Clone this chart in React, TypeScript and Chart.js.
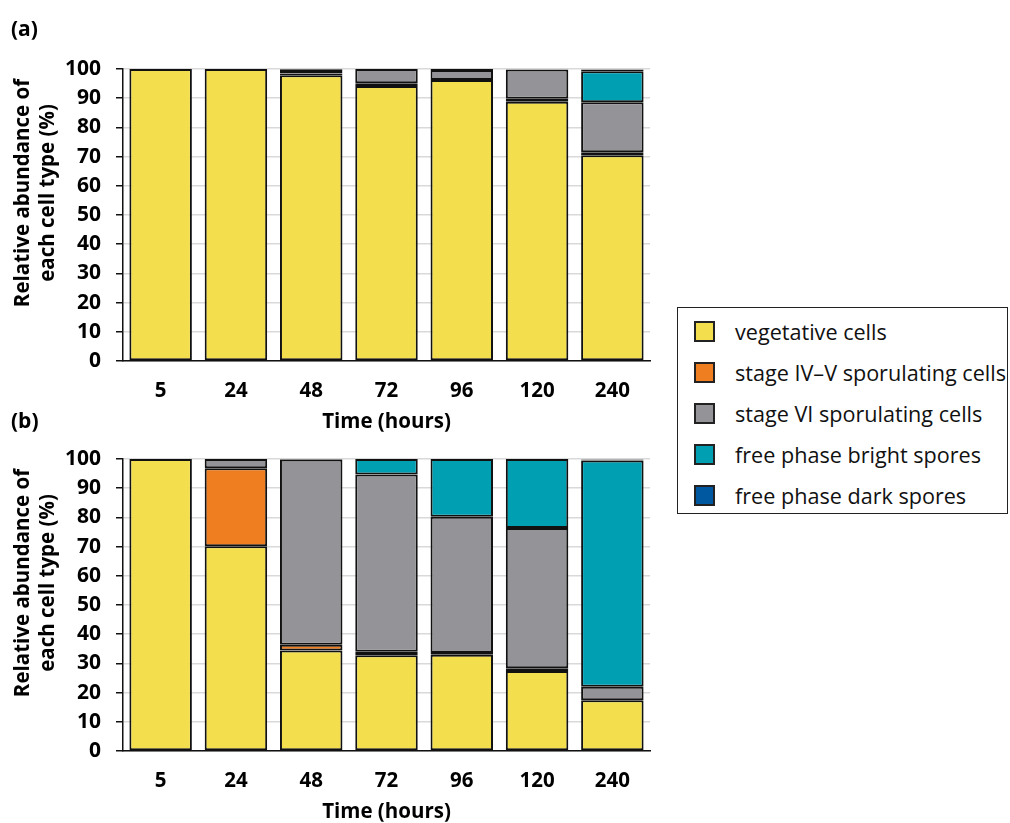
import React, { useEffect, useRef } from 'react';
import { Chart, registerables } from 'chart.js';

Chart.register(...registerables);

// Sampling times (hours) on the x axis
const hours = ['5', '24', '48', '72', '96', '120', '240'];

// Cell type series (stacked bottom to top)
const seriesNames = [
  'vegetative cells',
  'stage IV–V sporulating cells',
  'stage VI sporulating cells',
  'free phase bright spores',
  'free phase dark spores',
];
const seriesColors = ['#F3DF4D', '#EE7E1F', '#949397', '#00A0B2', '#0058A0'];

// Panel (a): relative abundance (%); null = cell type not observed
const vegetativeA = [100, 100, 97.9, 94.2, 96.2, 88.8, 70.5];
const stageIVVA = [null, null, 0.6, 0.9, null, 1.0, 1.0];
const stageVIA = [null, null, 0.8, 4.9, 3.5, 10.0, 17.1];
const brightA = [null, null, null, null, null, null, 10.6];
const darkA = [null, null, 0.6, null, 0.3, null, 0.6];

// Panel (b): relative abundance (%)
const vegetativeB = [100, 70.1, 34.4, 32.8, 33.0, 27.4, 17.4];
const stageIVVB = [null, 26.7, 2.0, 1.2, 0.6, 0.9, null];
const stageVIB = [null, 3.2, 63.4, 60.7, 46.6, 48.1, 4.6];
const brightB = [null, null, null, 5.3, 19.8, 23.6, 77.5];
const darkB = [null, null, 0.2, null, null, null, 0.3];

const yTitleLines = ['Relative abundance of', 'each cell type (%)'];
const xTitle = 'Time (hours)';

const FONT = "'Open Sans', 'DejaVu Sans', sans-serif";

const yTitlePlugin = {
  id: 'yTitleTwoLines',
  afterDraw(chart: any) {
    const { ctx, chartArea } = chart;
    ctx.save();
    ctx.font = `bold 20.5px ${FONT}`;
    ctx.fillStyle = '#000';
    ctx.textAlign = 'center';
    ctx.textBaseline = 'middle';
    const cy = (chartArea.top + chartArea.bottom) / 2 - 22;
    yTitleLines.forEach((line, i) => {
      ctx.save();
      ctx.translate(23 + i * 25, cy);
      ctx.rotate(-Math.PI / 2);
      ctx.fillText(line, 0, 0);
      ctx.restore();
    });
    ctx.restore();
  },
};

function StackedPanel({ series, top }: { series: (number | null)[][]; top: number }) {
  const ref = useRef<HTMLCanvasElement | null>(null);

  useEffect(() => {
    if (!ref.current) return;
    const chart = new Chart(ref.current, {
      type: 'bar',
      data: {
        labels: hours,
        datasets: series.map((values, i) => ({
          label: seriesNames[i],
          data: values,
          backgroundColor: seriesColors[i],
          borderColor: '#111',
          borderWidth: 2,
          borderSkipped: false,
          barPercentage: 0.83,
          categoryPercentage: 1,
        })),
      },
      options: {
        animation: false,
        responsive: false,
        maintainAspectRatio: false,
        layout: { padding: { top: 29, right: 5, left: 0, bottom: 0 } },
        plugins: {
          legend: { display: false },
          tooltip: { enabled: false },
        },
        scales: {
          x: {
            stacked: true,
            grid: { display: false, drawTicks: false },
            border: { display: true, color: '#111', width: 1.5 },
            ticks: {
              color: '#000',
              font: { family: FONT, size: 20.5, weight: 'bold' },
              padding: 18,
            },
            title: {
              display: true,
              text: xTitle,
              color: '#000',
              font: { family: FONT, size: 20.5, weight: 'bold' },
              padding: { top: 0, bottom: 6 },
            },
            afterFit(scale: any) {
              scale.height = 79;
            },
          },
          y: {
            stacked: true,
            min: 0,
            max: 100,
            ticks: {
              stepSize: 10,
              color: '#000',
              font: { family: FONT, size: 21, weight: 'bold' },
              padding: 15,
            },
            grid: {
              color: '#d9d9d9',
              lineWidth: 1.5,
              tickColor: '#111',
              tickLength: 7,
              drawTicks: true,
            },
            border: { display: true, color: '#111', width: 1.5 },
            afterFit(scale: any) {
              scale.width = 123;
            },
          },
        },
      },
      plugins: [yTitlePlugin],
    });
    return () => chart.destroy();
  }, [series]);

  return (
    <canvas
      ref={ref}
      width={655}
      height={400}
      style={{ position: 'absolute', left: 0, top, width: 655, height: 400 }}
    />
  );
}

const panelA = [vegetativeA, stageIVVA, stageVIA, brightA, darkA];
const panelB = [vegetativeB, stageIVVB, stageVIB, brightB, darkB];

function Legend() {
  return (
    <div
      style={{
        position: 'absolute',
        left: 677,
        top: 307,
        width: 329,
        height: 205,
        border: '1.5px solid #222',
        background: '#fff',
        fontFamily: FONT,
      }}
    >
      {seriesNames.map((name, i) => (
        <div
          key={name}
          style={{
            position: 'absolute',
            left: 16,
            top: 23 + i * 41 - 15,
            height: 30,
            display: 'flex',
            alignItems: 'center',
            whiteSpace: 'nowrap',
          }}
        >
          <div
            style={{
              width: 17,
              height: 17,
              background: seriesColors[i],
              border: '2px solid #222',
              marginRight: 20,
            }}
          />
          <span style={{ fontSize: 21.6, color: '#111' }}>{name}</span>
        </div>
      ))}
    </div>
  );
}

export default function App() {
  const label = {
    position: 'absolute' as const,
    left: 11,
    fontFamily: FONT,
    fontWeight: 700,
    fontSize: 21,
    color: '#000',
    lineHeight: '24px',
  };
  return (
    <div style={{ position: 'absolute', left: 0, top: 0, width: 1010, height: 823, background: '#fff', overflow: 'hidden' }}>
      <StackedPanel series={panelA} top={40} />
      <StackedPanel series={panelB} top={430} />
      <div style={{ ...label, top: 16 }}>(a)</div>
      <div style={{ ...label, top: 408 }}>(b)</div>
      <Legend />
    </div>
  );
}
